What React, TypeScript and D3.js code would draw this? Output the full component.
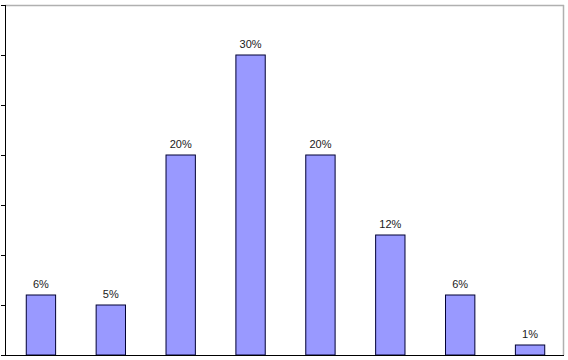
import React from "react";
import * as d3 from "d3";

const categories = ["A", "B", "C", "D", "E", "F", "G", "H"];
const values = [6, 5, 20, 30, 20, 12, 6, 1];
const labels = ["6%", "5%", "20%", "30%", "20%", "12%", "6%", "1%"];
const yTicks = [0, 5, 10, 15, 20, 25, 30, 35];

export default function App() {
  const W = 568, H = 360;
  const left = 5, right = 564, top = 5, bottom = 355;
  const x = d3.scaleBand<string>().domain(categories).range([left + 1, right + 1]).paddingInner(0.58).paddingOuter(0.29);
  const y = d3.scaleLinear().domain([0, 35]).range([bottom, top]);
  return (
    <svg width={W} height={H} style={{ position: "absolute", left: 0, top: 0, background: "#fff" }}>
      <line x1={left} x2={right} y1={top + 0.5} y2={top + 0.5} stroke="#b0b0b0" strokeWidth={1.5} />
      <line x1={right - 0.5} x2={right - 0.5} y1={top} y2={bottom} stroke="#b0b0b0" strokeWidth={1.5} />
      {categories.map((c, i) => (
        <g key={c}>
          <rect x={x(c)!} y={y(values[i])} width={x.bandwidth()} height={bottom - y(values[i])} fill="#9999ff" stroke="#000033" strokeWidth={1} />
          <text x={x(c)! + x.bandwidth() / 2} y={y(values[i]) - 7.5} textAnchor="middle" fontFamily="Liberation Sans, Arial, sans-serif" fontSize={11} fill="#1a1a1a">{labels[i]}</text>
        </g>
      ))}
      <line x1={left + 0.5} x2={left + 0.5} y1={top} y2={bottom} stroke="#000" strokeWidth={1} />
      {yTicks.map(t => (
        <line key={t} x1={1} x2={left} y1={Math.round(y(t)) + 0.5} y2={Math.round(y(t)) + 0.5} stroke="#000" strokeWidth={1} />
      ))}
      <line x1={left} x2={right} y1={bottom + 0.5} y2={bottom + 0.5} stroke="#000" strokeWidth={1} />
    </svg>
  );
}
